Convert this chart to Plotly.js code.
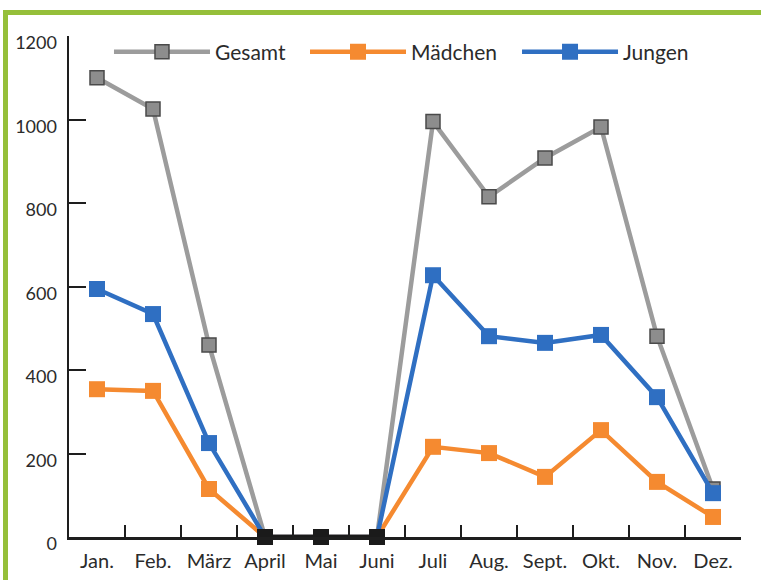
<!DOCTYPE html>
<html>
<head>
<meta charset="utf-8">
<script src="https://cdn.plot.ly/plotly-3.0.1.min.js"></script>
<style>
  html, body { margin: 0; padding: 0; background: #ffffff; }
  #wrap { position: relative; width: 761px; height: 580px; overflow: hidden; }
  #chart { position: absolute; left: 0; top: 0; width: 761px; height: 580px; }
  .frame-left { position: absolute; left: 3px; top: 10px; width: 5px; height: 570px; background: #95bf3a; }
  .frame-top { position: absolute; left: 3px; top: 10px; width: 758px; height: 5px; background: #95bf3a; }
</style>
</head>
<body>
<div id="wrap">
  <div id="chart"></div>
  <div class="frame-left"></div>
  <div class="frame-top"></div>
</div>
<script>
// Monthly counts
const months = ['Jan.', 'Feb.', 'März', 'April', 'Mai', 'Juni', 'Juli', 'Aug.', 'Sept.', 'Okt.', 'Nov.', 'Dez.'];
const gesamt  = [1100, 1025, 460, 0, 0, 0, 995, 815, 908, 982, 481, 115];
const maedchen = [354, 350, 115, 0, 0, 0, 216, 201, 144, 256, 132, 48];
const jungen  = [594, 534, 225, 0, 0, 0, 627, 481, 465, 484, 335, 105];
const yTicks = [0, 200, 400, 600, 800, 1000, 1200];

// Months with no cases at all are highlighted in black
const zeroMonths = months.filter((m, i) => gesamt[i] === 0);
const zeroValues = zeroMonths.map(() => 0);

const textColor = '#2b2b2b';
const family = 'Lato, "Open Sans", sans-serif';
const font = { family: family, size: 20, color: textColor };
const legendFont = { family: family, size: 21, color: textColor };
const yFont = { family: family, size: 18, color: textColor };

function series(name, y, lineColor, markerColor, outline, legendId) {
  return {
    type: 'scatter', mode: 'lines+markers', name: name, legend: legendId,
    x: months, y: y, cliponaxis: false,
    line: { color: lineColor, width: 4.5 },
    marker: { symbol: 'square', size: outline ? 14 : 16, color: markerColor,
              line: { color: outline || markerColor, width: outline ? 1.5 : 0 } }
  };
}

const traces = [
  series('Gesamt', gesamt, '#9c9c9c', '#8d8d8d', '#4a4a4a', 'legend'),
  series('Mädchen', maedchen, '#f58a30', '#f58a30', null, 'legend2'),
  series('Jungen', jungen, '#2f6fc2', '#2f6fc2', null, 'legend3'),
  {
    type: 'scatter', mode: 'lines+markers', x: zeroMonths, y: zeroValues,
    showlegend: false, cliponaxis: false, hoverinfo: 'skip',
    line: { color: '#1a1a1a', width: 4.5 },
    marker: { symbol: 'square', size: 16, color: '#1a1a1a' }
  }
];

// One key entry per series, placed along the top of the plot
function key(x) {
  return {
    orientation: 'h', x: x, y: 0.968, xanchor: 'left', yanchor: 'middle',
    font: legendFont, itemwidth: 96, bgcolor: 'rgba(0,0,0,0)'
  };
}

const layout = {
  width: 761, height: 580,
  margin: { l: 69, r: 20, t: 36, b: 43 },
  paper_bgcolor: 'rgba(0,0,0,0)', plot_bgcolor: 'rgba(0,0,0,0)',
  font: font,
  showlegend: true,
  legend: key(0.0595),
  legend2: key(0.3512),
  legend3: key(0.6667),
  xaxis: {
    type: 'category', range: [-0.5, 11.5],
    showgrid: false, zeroline: false,
    showline: true, linecolor: '#1e1e1e', linewidth: 2.5,
    ticks: 'inside', tickson: 'boundaries', ticklen: 12, tickwidth: 2, tickcolor: '#1e1e1e',
    tickfont: font, ticklabelstandoff: 4
  },
  yaxis: {
    range: [0, 1200], tickvals: yTicks, ticktext: yTicks.map(String),
    showgrid: false, zeroline: false,
    showline: true, linecolor: '#1e1e1e', linewidth: 2.5,
    ticks: 'inside', ticklen: 17, tickwidth: 2, tickcolor: '#1e1e1e',
    tickfont: yFont, ticklabelshift: 7, ticklabelstandoff: 6
  }
};

Plotly.newPlot('chart', traces, layout, { displayModeBar: false, staticPlot: true });
</script>
</body>
</html>
